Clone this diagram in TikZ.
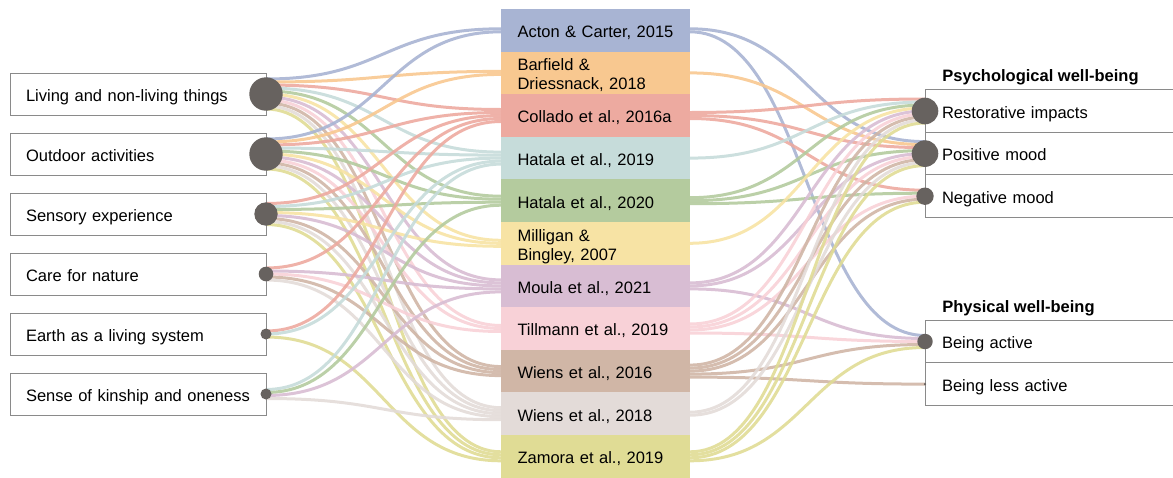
\documentclass[tikz,border=0pt]{standalone}
\usepackage{fontspec}
\setmainfont{Liberation Sans}
\usetikzlibrary{positioning, calc}

\definecolor{boxgray}{HTML}{8A8A8A}
\definecolor{dotgray}{HTML}{67625F}
\definecolor{cacton}{HTML}{A8B4D3}
\definecolor{cbarfield}{HTML}{F8C890}
\definecolor{ccollado}{HTML}{EDAAA0}
\definecolor{chatalaA}{HTML}{C6DCDA}
\definecolor{chatalaB}{HTML}{B4CB9E}
\definecolor{cmilligan}{HTML}{F7E3A4}
\definecolor{cmoula}{HTML}{D8BDD3}
\definecolor{ctillmann}{HTML}{F8D1D7}
\definecolor{cwiensA}{HTML}{D0B6A6}
\definecolor{cwiensB}{HTML}{E3DBD8}
\definecolor{czamora}{HTML}{E0DC95}

\pgfdeclarelayer{bg}
\pgfsetlayers{bg,main}

\begin{document}
\begin{tikzpicture}[x=0.5pt, y=-0.5pt, font=\fontsize{8.25pt}{9.5pt}\selectfont,
    cat/.style={draw=boxgray, line width=0.5pt, minimum height=21pt, text width=112pt,
      inner xsep=8pt, inner ysep=0pt, align=left, outer sep=0pt, text height=7.3pt, text depth=0pt},
    study/.style={minimum height=21.3pt, text width=78pt, inner xsep=8.25pt, inner ysep=0pt,
      align=left, outer sep=0pt, text height=7.3pt, text depth=0pt},
    twoline/.style={text depth=9.5pt},
    outcome/.style={draw=boxgray, line width=0.5pt, minimum height=21.3pt, text width=108pt,
      inner xsep=8.5pt, inner ysep=0pt, align=left, outer sep=0pt, text height=7.3pt, text depth=0pt},
    head/.style={font=\fontsize{8.25pt}{9.5pt}\selectfont\bfseries, inner sep=0pt, anchor=base west},
    dot/.style={circle, fill=dotgray, inner sep=0pt},
    flow/.style={line width=1.5pt, opacity=0.9}]
    \useasboundingbox (0,0) rectangle (1173,477);

    % Left: what the children met
    \node[cat, anchor=west] (liv) at (10,94) {Living and non-living things};
    \node[cat, below=9pt of liv] (out) {Outdoor activities};
    \node[cat, below=9pt of out] (sen) {Sensory experience};
    \node[cat, below=9pt of sen] (care) {Care for nature};
    \node[cat, below=9pt of care] (earth) {Earth as a living system};
    \node[cat, below=9pt of earth] (kin) {Sense of kinship and oneness};

    % Middle: studies
    \node[study, fill=cacton, anchor=north west] (acton) at (501,9) {Acton \& Carter, 2015};
    \node[study, twoline, fill=cbarfield, below=0pt of acton] (barfield) {Barfield \&\\Driessnack, 2018};
    \node[study, fill=ccollado, below=0pt of barfield] (collado) {Collado et al., 2016a};
    \node[study, fill=chatalaA, below=0pt of collado] (hatalaA) {Hatala et al., 2019};
    \node[study, fill=chatalaB, below=0pt of hatalaA] (hatalaB) {Hatala et al., 2020};
    \node[study, twoline, fill=cmilligan, below=0pt of hatalaB] (milligan) {Milligan \&\\Bingley, 2007};
    \node[study, fill=cmoula, below=0pt of milligan] (moula) {Moula et al., 2021};
    \node[study, fill=ctillmann, below=0pt of moula] (tillmann) {Tillmann et al., 2019};
    \node[study, fill=cwiensA, below=0pt of tillmann] (wiensA) {Wiens et al., 2016};
    \node[study, fill=cwiensB, below=0pt of wiensA] (wiensB) {Wiens et al., 2018};
    \node[study, fill=czamora, below=0pt of wiensB] (zamora) {Zamora et al., 2019};

    % Right: outcomes
    \node[outcome, anchor=west] (res) at (925,111) {Restorative impacts};
    \node[outcome, below=0pt of res] (pos) {Positive mood};
    \node[outcome, below=0pt of pos] (neg) {Negative mood};
    \node[outcome, anchor=west] (act) at (925,341.5) {Being active};
    \node[outcome, below=0pt of act] (less) {Being less active};
    \node[head] (psyhead) at ([xshift=8.5pt, yshift=4pt]res.north west) {Psychological well-being};
    \node[head] (phyhead) at ([xshift=8.5pt, yshift=4pt]act.north west) {Physical well-being};

    % Dots
    \node[dot, minimum size=16.7pt] (dliv) at (liv.east) {};
    \node[dot, minimum size=16.7pt] (dout) at (out.east) {};
    \node[dot, minimum size=11.7pt] (dsen) at (sen.east) {};
    \node[dot, minimum size=7.3pt] (dcare) at (care.east) {};
    \node[dot, minimum size=5.5pt] (dearth) at (earth.east) {};
    \node[dot, minimum size=5.5pt] (dkin) at (kin.east) {};
    \node[dot, minimum size=13.3pt] (dres) at (res.west) {};
    \node[dot, minimum size=13.3pt] (dpos) at (pos.west) {};
    \node[dot, minimum size=8.7pt] (dneg) at (neg.west) {};
    \node[dot, minimum size=7.7pt] (dact) at (act.west) {};
    \node[dot, minimum size=1.2pt] (dless) at (less.west) {};

    % Flows
    \begin{pgfonlayer}{bg}
    \foreach \a/\p/\s/\q in {
        liv/-15/acton/-1.5, liv/-12/barfield/-1.5, liv/-9/collado/-6, liv/-6/hatalaA/-6,
        liv/-3/hatalaB/-4.5, liv/0/milligan/-3, liv/3/moula/-6, liv/6/tillmann/-3,
        liv/9/wiensA/-4.5, liv/12/wiensB/-6, liv/15/zamora/-4.5,
        out/-15/acton/1.5, out/-12/barfield/1.5, out/-9/collado/-3, out/-6/hatalaA/-3,
        out/-3/hatalaB/-1.5, out/0/milligan/0, out/3/moula/-3, out/6/tillmann/0,
        out/9/wiensA/-1.5, out/12/wiensB/-3, out/15/zamora/-1.5,
        sen/-10.5/collado/0, sen/-7.5/hatalaA/0, sen/-4.5/hatalaB/1.5, sen/-1.5/milligan/3,
        sen/1.5/moula/0, sen/4.5/wiensA/1.5, sen/7.5/wiensB/0, sen/10.5/zamora/1.5,
        care/-6/collado/3, care/-3/moula/3, care/0/tillmann/3, care/3/wiensA/4.5, care/6/wiensB/3,
        earth/-3/collado/6, earth/0/hatalaA/3, earth/3/zamora/4.5,
        kin/-4.5/hatalaA/6, kin/-1.5/hatalaB/4.5, kin/1.5/moula/6, kin/4.5/wiensB/6}
      \draw[flow, draw=c\s] ($(d\a.center)+(0,\p)$) .. controls +(117,0) and +(-117,0) .. ($(\s.west)+(0,\q)$);
    \foreach \s/\p/\t/\q in {
        acton/-1.5/pos/-12, acton/1.5/act/-6,
        barfield/0/pos/-9,
        collado/-3/res/-12, collado/0/pos/-6, collado/3/neg/-6,
        hatalaA/0/res/-9,
        hatalaB/-3/res/-6, hatalaB/0/pos/-3, hatalaB/3/neg/-3,
        milligan/0/res/-3,
        moula/-3/res/0, moula/0/pos/0, moula/3/act/-3,
        tillmann/-4.5/res/3, tillmann/-1.5/pos/3, tillmann/1.5/neg/0, tillmann/4.5/act/0,
        wiensA/-6/res/6, wiensA/-3/pos/6, wiensA/0/neg/3, wiensA/3/act/3, wiensA/6/less/0,
        wiensB/-1.5/res/9, wiensB/1.5/pos/9,
        zamora/-4.5/res/12, zamora/-1.5/pos/12, zamora/1.5/neg/6, zamora/4.5/act/6}
      \draw[flow, draw=c\s] ($(\s.east)+(0,\p)$) .. controls +(117,0) and +(-117,0) .. ($(d\t.center)+(0,\q)$);
    \end{pgfonlayer}
\end{tikzpicture}
\end{document}
